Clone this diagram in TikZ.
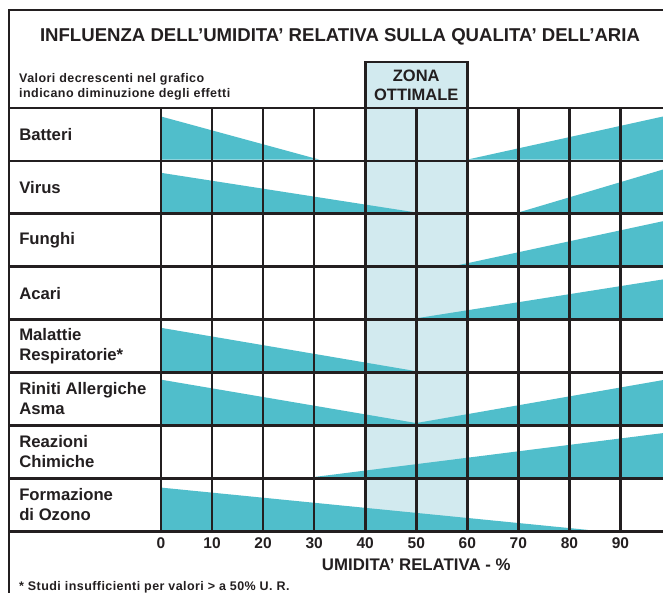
\documentclass[tikz,border=0pt]{standalone}
\usepackage{fontspec}
\setmainfont{Liberation Sans}
\newfontfamily\notefont[LetterSpace=3.5]{Liberation Sans}
\usepackage{tikz}
\definecolor{wedgeteal}{RGB}{80,190,203}
\definecolor{zonelight}{RGB}{210,234,239}
\definecolor{gridblack}{RGB}{35,31,32}

\tikzset{
  gridline/.style={draw=gridblack,line width=2.6pt},
  wedge/.style={fill=wedgeteal},
  rowlabel/.style={anchor=west,align=left,inner sep=0pt,text=gridblack,font=\bfseries\fontsize{16.7}{20}\selectfont},
  titletext/.style={inner sep=0pt,text=gridblack,font=\bfseries\fontsize{18.6}{22}\selectfont},
  notetext/.style={inner sep=0pt,text=gridblack,font=\notefont\bfseries\fontsize{12.5}{14.5}\selectfont},
  zonetext/.style={align=center,inner sep=0pt,text=gridblack,font=\bfseries\fontsize{16.5}{19}\selectfont},
  axisnum/.style={inner sep=0pt,text=gridblack,font=\bfseries\fontsize{15.5}{18}\selectfont},
  axistitle/.style={inner sep=0pt,text=gridblack,font=\bfseries\fontsize{16.8}{20}\selectfont}
}

\begin{document}
\begin{tikzpicture}[x=1pt,y=1pt]
\useasboundingbox (0,0) rectangle (663,592);
\clip (0,0) rectangle (663,592);
\fill[white] (0,0) rectangle (663,592);

\node[titletext] (title) at (340,555) {INFLUENZA DELL’UMIDITA’ RELATIVA SULLA QUALITA’ DELL’ARIA};
\node[notetext,anchor=west,align=left] (legend) at (19,505) {Valori decrescenti nel grafico\\indicano diminuzione degli effetti};
\node[notetext,anchor=base west] (footnote) at (19,2) {* Studi insufficienti per valori > a 50\% U. R.};

\begin{scope}[shift={(161,60.8)},x=5.105pt,y=52.9pt]
% zona ottimale
\fill[zonelight] (40,0) rectangle (60,8.87);
% andamenti
\begin{scope}[yshift=1.3pt]
\fill[wedge] (0,7) -- (0,7.815) -- (31,7) -- cycle;
\fill[wedge] (60,7) -- (100,7.85) -- (100,7) -- cycle;
\fill[wedge] (0,6) -- (0,6.75) -- (50,6) -- cycle;
\fill[wedge] (70,6) -- (100,6.86) -- (100,6) -- cycle;
\fill[wedge] (58,5) -- (100,5.87) -- (100,5) -- cycle;
\fill[wedge] (50,4) -- (100,4.76) -- (100,4) -- cycle;
\fill[wedge] (0,3) -- (0,3.82) -- (50,3) -- cycle;
\fill[wedge] (0,2) -- (0,2.84) -- (50,2.02) -- (100,2.86) -- (100,2) -- cycle;
\fill[wedge] (30,1) -- (100,1.85) -- (100,1) -- cycle;
\fill[wedge] (0,0) -- (0,0.80) -- (83.6,0) -- cycle;
\end{scope}
% griglia
\foreach \p in {0,10,...,100}
  \draw[gridline] (\p,0) -- (\p,8);
\foreach \r in {0,...,8}
  \draw[gridline] (-29.77,\r) -- (110,\r);
\draw[gridline] (110,9.853) -| (-29.77,-2);
\draw[gridline] (40,8) rectangle (60,8.87);
\node[zonetext] (zona) at (50,8.42) {ZONA\\OTTIMALE};
% etichette
\foreach \r/\lab in {7/Batteri,6/Virus,5/Funghi,4/Acari,3/Malattie\\Respiratorie*,2/Riniti Allergiche\\Asma,1/Reazioni\\Chimiche,0/Formazione\\di Ozono}
  \node[rowlabel] (lab\r) at (-27.8,\r+0.5) {\lab};
\foreach \p in {0,10,...,90}
  \node[axisnum] (num\p) at (\p,-0.229) {\p};
\node[axistitle] (xlabel) at (50,-0.639) {UMIDITA’ RELATIVA - \%};
\end{scope}
\end{tikzpicture}
\end{document}
